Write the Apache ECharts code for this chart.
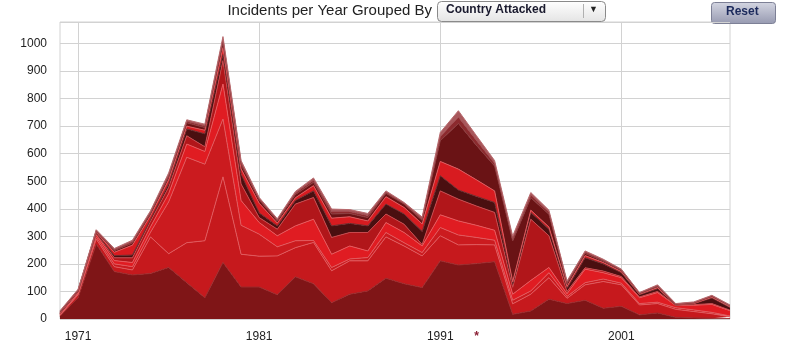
<!DOCTYPE html>
<html><head><meta charset="utf-8">
<script src="https://cdn.jsdelivr.net/npm/echarts@6/dist/echarts.min.js"></script>
<style>html,body{margin:0;padding:0;background:#fff}#c{width:788px;height:358px}</style>
</head><body><div id="c"></div>
<script>
const years = ['1970','1971','1972','1973','1974','1975','1976','1977','1978','1979','1980','1981','1982','1983','1984','1985','1986','1987','1988','1989','1990','1991','1992','1993','1994','1995','1996','1997','1998','1999','2000','2001','2002','2003','2004','2005','2006','2007'];
const labelYears = ['1971','1981','1991','2001'];
const markYears = ['1993'];
const yTicks = [0,100,200,300,400,500,600,700,800,900,1000];

const layerA = [10,77,272,172,160,165,187,132,77,205,116,116,88,153,128,59,90,102,148,128,114,211,196,201,208,17,29,72,56,68,39,46,15,22,6,4,3,2];
const layerB = [3,11,18,18,18,133,50,145,207,311,119,112,141,106,150,116,121,109,150,137,115,91,73,69,61,38,61,78,19,56,97,78,36,34,29,23,16,6];
const layerC = [2,4,8,10,12,17,188,310,278,210,105,80,33,25,7,12,7,12,16,12,12,30,36,26,17,13,12,18,7,8,9,6,5,5,6,6,5,3];
const layerD = [2,4,8,12,15,20,30,48,46,127,90,42,40,54,77,48,47,24,36,37,24,46,51,44,36,22,38,19,10,49,23,20,21,35,8,17,29,19];
const layerE = [2,3,4,10,17,20,23,30,17,85,60,18,24,79,79,61,49,67,31,30,5,87,79,70,65,25,222,115,8,5,6,4,3,4,1,2,3,2];
const layerF = [1,1,2,8,10,7,12,25,47,22,35,17,12,13,24,42,33,24,36,37,48,55,33,35,36,13,25,24,12,36,26,14,8,10,1,3,20,10];
const layerG = [2,2,3,12,36,13,15,10,13,25,20,35,10,10,19,28,24,18,27,24,27,52,76,60,42,7,8,8,6,8,5,4,2,4,1,1,3,2];
const layerH = [2,2,3,6,8,8,10,12,10,20,15,12,8,12,12,15,12,12,12,12,13,75,166,125,90,148,45,46,10,8,5,4,2,4,1,2,3,3];
const layerI = [3,2,3,4,5,5,8,6,6,10,8,5,4,6,8,9,7,8,5,3,6,15,23,18,10,9,10,8,5,5,4,3,2,3,2,2,2,2];
const layerJ = [3,2,3,4,5,5,7,5,6,10,7,4,4,5,8,9,7,7,4,3,6,15,23,17,10,9,9,7,5,4,3,2,2,3,1,2,2,2];

const layers = [
  {name:'A', data:layerA, color:'#7f1517', line:'#9a2a2c'},
  {name:'B', data:layerB, color:'#c6191d', line:'#e0585c'},
  {name:'C', data:layerC, color:'#cb1b1f', line:'#e0585c'},
  {name:'D', data:layerD, color:'#e01c22', line:'#e8585c'},
  {name:'E', data:layerE, color:'#b1161a', line:'#c9484c'},
  {name:'F', data:layerF, color:'#4a0f10', line:'#6a2a2c'},
  {name:'G', data:layerG, color:'#d81b20', line:'#e0585c'},
  {name:'H', data:layerH, color:'#6a1315', line:'#8a3a3c'},
  {name:'I', data:layerI, color:'#8c2a2e', line:'#a04a4e'},
  {name:'J', data:layerJ, color:'#a8585c', line:'#b86a6e'}
];

const chart = echarts.init(document.getElementById('c'), null, {renderer:'canvas'});
const FONT = '"Liberation Sans", Arial, Helvetica, sans-serif';

chart.setOption({
  animation:false,
  backgroundColor:'#ffffff',
  grid:{left:60, right:58, top:22, bottom:39, show:true, borderColor:'#d2d2d2', borderWidth:1},
  xAxis:{
    type:'category', data:years, boundaryGap:false,
    axisLine:{show:false}, axisTick:{show:false},
    axisLabel:{
      interval:(i,v)=>labelYears.includes(v)||markYears.includes(v),
      formatter:(v)=> markYears.includes(v) ? '{s|*}' : v,
      fontFamily:FONT, fontSize:12, color:'#222', margin:12,
      rich:{s:{color:'#8b2035', fontSize:12, fontWeight:'bold', fontFamily:FONT}}
    },
    splitLine:{show:true, interval:(i,v)=>labelYears.includes(v), lineStyle:{color:'#d2d2d2', width:1}}
  },
  yAxis:{
    type:'value', min:0, max:1078, interval:100,
    axisLine:{show:false}, axisTick:{show:false},
    axisLabel:{showMaxLabel:false, fontFamily:FONT, fontSize:12, color:'#222', margin:13,
      formatter:(v)=> yTicks.includes(v) ? String(v) : ''},
    splitLine:{lineStyle:{color:'#d2d2d2', width:1}}
  },
  series: layers.map(l=>({
    name:l.name, type:'line', stack:'total', data:l.data,
    symbol:'none', smooth:false,
    lineStyle:{width:1, color:l.line},
    areaStyle:{color:l.color, opacity:1},
    emphasis:{disabled:true}
  })),
  graphic:[
    {type:'text', right:356, top:3, style:{text:'Incidents per Year Grouped By', font:'15px '+FONT, fill:'#222'}},
    {type:'rect', left:437, top:1, shape:{width:168, height:20, r:4},
      style:{fill:new echarts.graphic.LinearGradient(0,0,0,1,[{offset:0,color:'#ffffff'},{offset:1,color:'#e4e4e4'}]), stroke:'#8a8a8a', lineWidth:1}},
    {type:'text', left:446, top:4, style:{text:'Country Attacked', font:'bold 12px '+FONT, fill:'#1a1a2e'}},
    {type:'line', shape:{x1:583.5, y1:4, x2:583.5, y2:18}, style:{stroke:'#b0b0b0', lineWidth:1}},
    {type:'text', left:589, top:5, style:{text:'▼', font:'9px '+FONT, fill:'#222'}},
    {type:'rect', left:711, top:2, shape:{width:64, height:21, r:3},
      style:{fill:new echarts.graphic.LinearGradient(0,0,0,1,[{offset:0,color:'#d4d6e2'},{offset:1,color:'#9699b0'}]), stroke:'#7d8096', lineWidth:1}},
    {type:'text', left:726, top:6, style:{text:'Reset', font:'bold 12px '+FONT, fill:'#1c2a5c'}}
  ]
});
</script></body></html>
